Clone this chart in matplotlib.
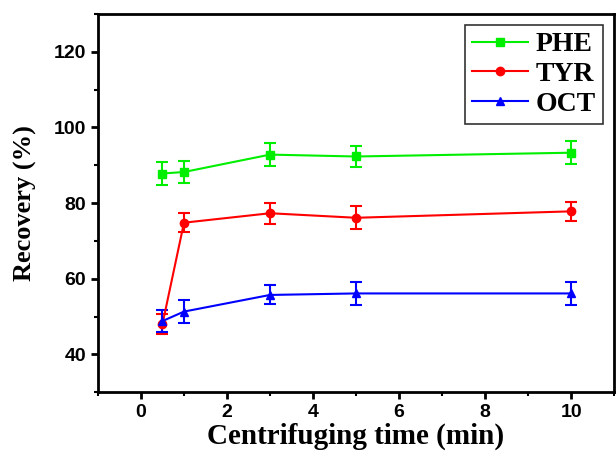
import numpy as np
import matplotlib.pyplot as plt
from matplotlib.ticker import MultipleLocator
from matplotlib.lines import Line2D

time = [0.5, 1, 3, 5, 10]
phe = [87.8, 88.2, 92.8, 92.3, 93.3]
phe_err = [3.0, 3.0, 3.0, 2.8, 3.0]
tyr = [48.0, 74.8, 77.3, 76.1, 77.8]
tyr_err = [2.6, 2.5, 2.8, 3.0, 2.5]
oct_ = [48.8, 51.3, 55.7, 56.1, 56.1]
oct_err = [2.8, 3.0, 2.5, 3.0, 3.0]

series = [('PHE', phe, phe_err, '#00ee00', 's'),
          ('TYR', tyr, tyr_err, '#ff0000', 'o'),
          ('OCT', oct_, oct_err, '#0000ff', '^')]

fig = plt.figure(figsize=(6.16, 4.63), dpi=100)
ax = fig.add_axes([0.159, 0.153, 0.838, 0.817])

handles = []
for name, y, err, c, m in series:
    ax.errorbar(time, y, yerr=err, color=c, marker=m, linewidth=1.5,
                markersize=6, capsize=4, elinewidth=1.5, capthick=1.5)
    handles.append(Line2D([], [], color=c, marker=m, linewidth=1.5,
                          markersize=6, label=name))

ax.set_xlim(-1, 11)
ax.set_ylim(30, 130)
ax.xaxis.set_major_locator(MultipleLocator(2))
ax.xaxis.set_minor_locator(MultipleLocator(1))
ax.yaxis.set_minor_locator(MultipleLocator(10))
ax.set_yticks([40, 60, 80, 100, 120])

for s in ax.spines.values():
    s.set_linewidth(2)
ax.tick_params(which='major', direction='out', length=5, width=2)
ax.tick_params(which='minor', direction='out', length=3, width=1.5)
for lab in ax.get_xticklabels() + ax.get_yticklabels():
    lab.set_fontfamily('Liberation Sans')
    lab.set_fontweight('bold')
    lab.set_fontsize(14)

ax.set_xlabel('Centrifuging time (min)', fontfamily='Liberation Serif',
              fontweight='bold', fontsize=21, labelpad=1)
ax.set_ylabel('Recovery (%)', fontfamily='Liberation Serif',
              fontweight='bold', fontsize=19, labelpad=12)

leg = ax.legend(handles=handles, loc='upper right', fancybox=False,
                edgecolor='black',
                prop={'family': 'Liberation Serif', 'weight': 'bold', 'size': 20},
                handlelength=2.0, borderpad=0.25, labelspacing=0.15,
                handletextpad=0.3, borderaxespad=0.4)
leg.get_frame().set_linewidth(1.2)

fig.savefig('out.png', dpi=100)
